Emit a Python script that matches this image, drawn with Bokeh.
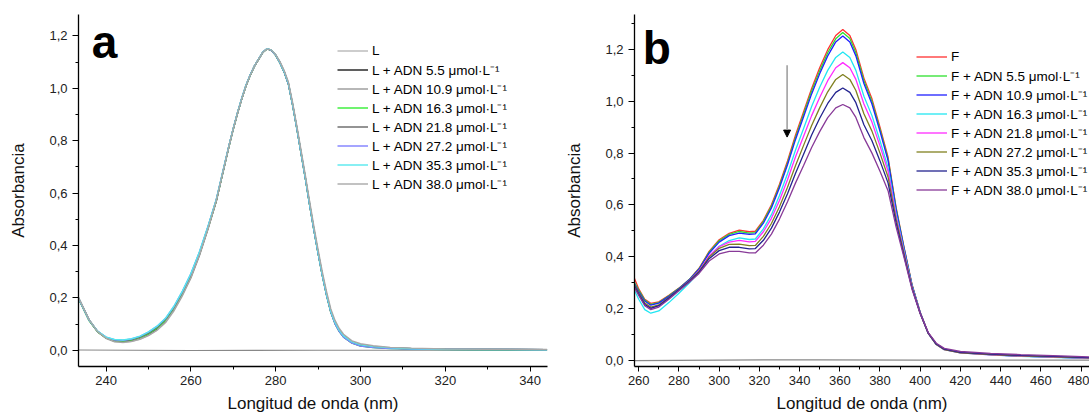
from bokeh.plotting import figure
from bokeh.layouts import row
from bokeh.models import (Range1d, SingleIntervalTicker, CustomJSTickFormatter, Legend,
                          LegendItem, Label, Arrow, NormalHead)
from bokeh.embed import file_html
from bokeh.resources import INLINE

FONT = "Liberation Sans"

# ---------------- Panel a data ----------------
wl_a = [233.5, 236, 238, 240, 242, 244, 246, 248, 250, 252, 254, 256, 258, 260, 262, 264,
        266, 267, 268, 269, 270, 271, 272, 273, 274, 275, 276, 277, 278, 279, 280, 281, 282, 283,
        284, 285, 286, 287, 288, 289, 290, 291, 292, 293,
        294, 295, 296, 298, 300, 303, 307, 312, 320, 330, 344]
labels_a = ["L", "L + ADN 5.5 μmol·L⁻¹", "L + ADN 10.9 μmol·L⁻¹", "L + ADN 16.3 μmol·L⁻¹",
            "L + ADN 21.8 μmol·L⁻¹", "L + ADN 27.2 μmol·L⁻¹", "L + ADN 35.3 μmol·L⁻¹",
            "L + ADN 38.0 μmol·L⁻¹"]
a_L = [.200, .115, .070, .045, .032, .029, .033, .042, .056, .076, .105, .150, .208, .275, .360, .460,
       .570, .640, .710, .780, .845, .905, .960, 1.010, 1.050, 1.085, 1.112, 1.138, 1.152, 1.146, 1.128,
       1.100, 1.065, 1.020, .940, .850, .755, .660, .560, .465, .375, .290, .215, .150,
       .108, .078, .057, .033, .022, .015, .010, .007, .005, .004, .002]
a_55 = [.198, .114, .071, .047, .035, .033, .037, .046, .060, .081, .110, .156, .214, .281, .365, .464,
        .570, .640, .710, .780, .845, .905, .960, 1.010, 1.050, 1.085, 1.112, 1.138, 1.151, 1.145, 1.127,
        1.099, 1.064, 1.018, .938, .848, .753, .658, .558, .463, .373, .288, .213, .148,
        .105, .075, .054, .031, .020, .013, .009, .006, .004, .003, .002]
a_109 = [.199, .116, .072, .048, .037, .035, .040, .049, .064, .085, .115, .161, .219, .286, .369, .467,
         .573, .642, .712, .781, .846, .906, .961, 1.011, 1.051, 1.086, 1.113, 1.139, 1.152, 1.145, 1.127,
         1.098, 1.063, 1.017, .936, .846, .751, .656, .556, .461, .371, .286, .211, .146,
         .103, .073, .052, .029, .018, .012, .008, .006, .004, .003, .002]
a_163 = [.197, .113, .070, .047, .036, .034, .039, .048, .063, .084, .114, .160, .218, .285, .368, .466,
         .572, .641, .711, .780, .845, .905, .960, 1.010, 1.050, 1.085, 1.112, 1.138, 1.151, 1.145, 1.126,
         1.097, 1.062, 1.016, .935, .845, .750, .655, .555, .460, .370, .285, .210, .145,
         .101, .071, .050, .027, .016, .010, .007, .005, .003, .002, .001]
a_218 = [.200, .116, .072, .049, .038, .036, .041, .051, .066, .088, .118, .164, .222, .289, .371, .469,
         .574, .643, .712, .781, .846, .906, .961, 1.011, 1.051, 1.085, 1.112, 1.138, 1.151, 1.144, 1.126,
         1.097, 1.062, 1.016, .935, .845, .750, .655, .555, .460, .370, .285, .210, .146,
         .102, .072, .051, .028, .017, .011, .008, .006, .004, .003, .002]
a_272 = [.198, .115, .072, .050, .040, .038, .043, .053, .069, .091, .121, .167, .225, .292, .374, .471,
         .576, .645, .714, .782, .847, .907, .962, 1.012, 1.052, 1.086, 1.113, 1.139, 1.152, 1.145, 1.127,
         1.098, 1.063, 1.017, .936, .846, .751, .656, .556, .461, .371, .286, .211, .146,
         .101, .071, .050, .027, .016, .010, .007, .005, .003, .003, .002]
a_353 = [.199, .116, .073, .050, .041, .039, .044, .054, .070, .092, .122, .168, .226, .293, .375, .472,
         .577, .646, .715, .783, .848, .908, .963, 1.013, 1.052, 1.086, 1.113, 1.139, 1.152, 1.146, 1.128,
         1.099, 1.064, 1.019, .938, .848, .753, .658, .558, .463, .373, .288, .213, .149,
         .106, .076, .055, .032, .021, .014, .009, .006, .004, .003, .002]
a_380 = [.201, .117, .071, .046, .033, .030, .034, .043, .057, .077, .107, .152, .210, .277, .362, .461,
         .571, .641, .711, .780, .845, .905, .960, 1.010, 1.050, 1.085, 1.112, 1.138, 1.151, 1.146, 1.129,
         1.102, 1.068, 1.024, .945, .856, .762, .668, .569, .474, .384, .299, .224, .158,
         .114, .083, .061, .036, .025, .017, .011, .008, .005, .004, .003]
colors_a = ["#b8b8b8", "#1a1a1a", "#999999", "#33ee33", "#666666", "#7f7fff", "#55e8ee", "#a8a8a8"]
blank_a_x = [233.5, 260, 290, 320, 344]
blank_a_y = [0.001, -0.001, 0.0, 0.0, 0.001]

# ---------------- Panel b data ----------------
wl_b = [257.9, 260, 263, 266, 270, 275, 280, 285, 290, 295, 300, 305, 310, 315, 318, 322, 326, 330, 334,
        338, 342, 346, 350, 354, 358, 361.5, 365, 368, 372, 376, 380, 384, 388, 392, 396, 400, 404, 408,
        412, 420, 435, 450, 470, 490]
labels_b = ["F", "F + ADN 5.5 μmol·L⁻¹", "F + ADN 10.9 μmol·L⁻¹", "F + ADN 16.3 μmol·L⁻¹",
            "F + ADN 21.8 μmol·L⁻¹", "F + ADN 27.2 μmol·L⁻¹", "F + ADN 35.3 μmol·L⁻¹",
            "F + ADN 38.0 μmol·L⁻¹"]
b_F = [.315, .275, .235, .219, .225, .250, .278, .310, .355, .420, .465, .490, .502, .496, .498, .540, .600,
       .680, .770, .870, .960, 1.050, 1.130, 1.200, 1.255, 1.278, 1.255, 1.200, 1.090, 1.010, .900, .785,
       .590, .435, .290, .185, .105, .062, .042, .030, .022, .016, .011, .007]
b_55 = [.300, .270, .232, .215, .222, .248, .277, .310, .353, .417, .461, .486, .497, .491, .493, .535, .594,
        .673, .762, .861, .950, 1.040, 1.118, 1.188, 1.242, 1.266, 1.243, 1.188, 1.080, 1.000, .892, .778,
        .586, .432, .288, .184, .104, .061, .041, .029, .021, .015, .010, .006]
b_109 = [.295, .265, .228, .212, .220, .246, .276, .309, .351, .413, .456, .481, .491, .486, .488, .529, .588,
         .666, .755, .853, .941, 1.029, 1.107, 1.176, 1.230, 1.253, 1.230, 1.176, 1.069, .990, .884, .772,
         .582, .430, .287, .184, .104, .061, .041, .029, .021, .015, .010, .006]
b_163 = [.270, .235, .195, .181, .190, .222, .258, .297, .340, .400, .440, .462, .472, .466, .468, .507, .562,
         .636, .720, .812, .895, .980, 1.055, 1.120, 1.170, 1.191, 1.170, 1.120, 1.020, .945, .848, .745,
         .565, .420, .283, .182, .103, .060, .040, .028, .020, .014, .009, .005]
b_218 = [.285, .255, .215, .200, .210, .240, .272, .305, .345, .403, .438, .456, .463, .457, .459, .496, .548,
         .617, .697, .786, .865, .945, 1.015, 1.080, 1.130, 1.150, 1.130, 1.085, .990, .920, .828, .730,
         .556, .415, .280, .181, .103, .060, .040, .028, .020, .015, .010, .006]
b_272 = [.290, .260, .220, .205, .213, .242, .273, .305, .343, .398, .432, .447, .448, .442, .443, .478, .528,
         .593, .668, .752, .830, .907, .975, 1.037, 1.085, 1.104, 1.085, 1.042, .952, .885, .800, .708,
         .545, .410, .278, .180, .103, .060, .040, .028, .021, .016, .011, .007]
b_353 = [.285, .255, .215, .200, .210, .240, .272, .303, .340, .392, .423, .436, .436, .430, .431, .463, .510,
         .572, .643, .722, .796, .870, .935, .992, 1.035, 1.052, 1.035, .995, .910, .848, .770, .685,
         .530, .402, .275, .180, .104, .062, .042, .030, .023, .018, .013, .008]
b_380 = [.280, .250, .210, .195, .205, .235, .268, .300, .335, .383, .410, .420, .420, .414, .414, .444, .487,
         .545, .612, .685, .752, .822, .883, .937, .975, .988, .975, .938, .860, .800, .730, .655,
         .515, .395, .272, .180, .106, .065, .045, .033, .026, .021, .016, .011]
colors_b = ["#ff3030", "#2ee02e", "#1f1fff", "#22e6f2", "#ff2bff", "#808020", "#23238f", "#883a98"]
blank_b_x = [257.9, 300, 350, 400, 450, 490]
blank_b_y = [-0.002, 0.0, 0.001, 0.0, 0.0, 0.0]

# arrow in panel b (data units)
arrow_x = 333.8
arrow_y_start = 1.14
arrow_y_end = 0.862


def style_axes(p):
    p.xaxis.ticker = SingleIntervalTicker(interval=20, num_minor_ticks=2)
    p.yaxis.ticker = SingleIntervalTicker(interval=0.2, num_minor_ticks=2)
    p.yaxis.formatter = CustomJSTickFormatter(code="return tick.toFixed(1).replace('.', ',');")
    p.xgrid.visible = False
    p.ygrid.visible = False
    p.outline_line_color = None
    for ax in [p.xaxis[0], p.yaxis[0]]:
        ax.axis_line_color = "black"
        ax.axis_line_width = 1.3
        ax.major_tick_line_color = "black"
        ax.minor_tick_line_color = "black"
        ax.major_tick_in = 0
        ax.minor_tick_in = 0
        ax.minor_tick_out = 3
        ax.major_label_text_font = FONT
        ax.major_label_text_font_size = "13px"
        ax.major_label_text_color = "#222222"
        ax.axis_label_text_font = FONT
        ax.axis_label_text_font_size = "17px"
        ax.axis_label_text_font_style = "normal"
        ax.axis_label_text_color = "#111111"
    p.yaxis.major_tick_out = 6
    p.xaxis.major_tick_out = 5
    p.yaxis.major_label_standoff = 5
    p.xaxis.major_label_standoff = 4
    p.yaxis.axis_label_standoff = 18
    p.xaxis.axis_label_standoff = 6
    p.xaxis.axis_label = "Longitud de onda (nm)"
    p.yaxis.axis_label = "Absorbancia"


def make_legend(p, renderers, labels, loc):
    items = [LegendItem(label=lab, renderers=[r]) for lab, r in zip(labels, renderers)]
    leg = Legend(items=items, location=loc, padding=0, margin=0, spacing=0,
                 glyph_width=31, glyph_height=19, label_height=19, label_standoff=4,
                 label_text_font=FONT, label_text_font_size="13.5px", label_text_color="black",
                 border_line_color=None, background_fill_alpha=0)
    p.add_layout(leg)


# ---------------- Figure a ----------------
pa = figure(width=562, height=416, output_backend="svg", toolbar_location=None, title_location=None,
            x_range=Range1d(233.5, 344.1), y_range=Range1d(-0.062, 1.282),
            min_border_left=78, min_border_right=15, min_border_top=13, min_border_bottom=50)
style_axes(pa)
pa.line(blank_a_x, blank_a_y, line_color="#888888", line_width=1.2)
series_a = [a_L, a_55, a_109, a_163, a_218, a_272, a_353, a_380]
rend_a = []
for ys, c in zip(series_a, colors_a):
    rend_a.append(pa.line(wl_a, ys, line_color=c, line_width=1.4))
make_legend(pa, rend_a, labels_a, (259, 173))
pa.add_layout(Label(x=236.6, y=1.178, text="a", text_font=FONT, text_font_size="46px",
                    text_font_style="bold", text_color="black", text_baseline="alphabetic"))

# ---------------- Figure b ----------------
pb = figure(width=527, height=416, output_backend="svg", toolbar_location=None, title_location=None,
            x_range=Range1d(257.9, 484.2), y_range=Range1d(-0.025, 1.336),
            min_border_left=71, min_border_right=0, min_border_top=14, min_border_bottom=49)
style_axes(pb)
pb.line(blank_b_x, blank_b_y, line_color="#888888", line_width=1.2)
series_b = [b_F, b_55, b_109, b_163, b_218, b_272, b_353, b_380]
rend_b = []
for ys, c in zip(series_b, colors_b):
    rend_b.append(pb.line(wl_b, ys, line_color=c, line_width=1.3))
make_legend(pb, rend_b, labels_b, (282, 167))
pb.add_layout(Arrow(end=NormalHead(size=7, fill_color="black", line_color="black"),
                    x_start=arrow_x, y_start=arrow_y_start, x_end=arrow_x, y_end=arrow_y_end,
                    line_color="#a0a0a0", line_width=1.6))
pb.add_layout(Label(x=262.0, y=1.208, text="b", text_font=FONT, text_font_size="46px",
                    text_font_style="bold", text_color="black", text_baseline="alphabetic"))

p = row(pa, pb)
open("out.html", "w").write(file_html(p, INLINE))
